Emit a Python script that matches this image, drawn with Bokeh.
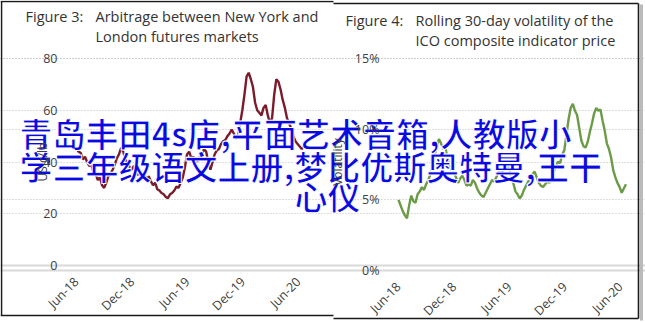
import math
import pandas as pd
from bokeh.plotting import figure
from bokeh.models import (Range1d, LinearAxis, DatetimeAxis, FixedTicker, Grid,
                          PrintfTickFormatter, DatetimeTickFormatter, ColumnDataSource)
from bokeh.core.properties import value
from bokeh.embed import file_html
from bokeh.resources import INLINE

# ---- data -------------------------------------------------------------
start_date = "2018-06-01"

# Figure 3: NY - London arbitrage, US c/lb (weekly)
arbitrage = [45, 44, 43.5, 41, 42, 40, 38.5, 39, 36, 35.5,
             33, 34, 31, 30, 32, 34.5, 35.5, 37, 39, 41.5,
             43, 45.5, 44, 41, 39.5, 38, 37, 38.5, 36, 35,
             36.5, 34, 35, 33, 34.5, 32.5, 31, 32, 29.5, 29,
             28, 27.5, 26.5, 26, 27.5, 28, 29, 30.5, 30, 32,
             34, 38, 43, 44, 41.5, 42, 40, 40.5, 42, 43,
             45, 44, 40, 37, 40, 43, 44.5, 45, 47, 48,
             48.5, 50, 51, 52.5, 51, 49, 50, 55, 60, 66,
             73, 74.5, 72, 69, 63, 60, 59, 58, 61, 62,
             58, 55, 57, 66, 72, 71, 68, 64, 61, 57,
             55, 53, 50, 48, 47, 46, 45, 46]

# Figure 4: rolling 30-day volatility of the ICO composite price, % (weekly)
volatility = [5.0, 4.6, 4.2, 3.9, 3.7, 4.6, 5.3, 4.9, 4.8, 5.4,
              5.6, 5.9, 5.7, 6.1, 6.4, 6.8, 7.3, 8.1, 8.8, 9.3,
              9.0, 8.6, 8.8, 7.9, 7.4, 7.1, 7.0, 6.6, 6.2, 6.5,
              6.7, 6.4, 6.0, 6.1, 6.0, 6.4, 6.2, 5.8, 5.5, 5.3,
              5.2, 5.5, 5.8, 6.1, 6.4, 6.3, 6.6, 6.9, 7.2, 7.0,
              7.4, 7.5, 7.2, 6.7, 6.2, 5.6, 5.4, 5.1, 5.3, 5.7,
              6.0, 6.3, 6.5, 6.8, 7.0, 6.6, 6.2, 6.0, 5.9, 6.1,
              6.3, 6.2, 6.6, 7.0, 7.3, 7.7, 7.6, 8.2, 8.5, 9.6,
              10.7, 11.5, 11.8, 11.3, 11.0, 10.1, 9.2, 8.8, 8.7, 9.1,
              9.8, 10.4, 11.1, 11.5, 11.3, 11.4, 10.6, 9.9, 9.0, 8.6,
              8.0, 7.1, 6.6, 6.2, 5.9, 5.5, 5.8, 6.1]

date_ticks = ["2018-06-01", "2018-12-01", "2019-06-01", "2019-12-01", "2020-06-01"]
arb_ticks = [0, 20, 40, 60, 80]
vol_ticks = [0, 5, 10, 15]

title_left = ["Figure 3:", "Arbitrage between New York and", "London futures markets"]
title_right = ["Figure 4:", "Rolling 30-day volatility of the", "ICO  composite indicator price"]
overlay_lines = ["青岛丰田4s店,平面艺术音箱,人教版小",
                 "学三年级语文上册,梦比优斯奥特曼,王干",
                 "心仪"]

# ---- helpers ----------------------------------------------------------
W, H = 645, 323


def ms(d):
    return pd.Timestamp(d).value / 1e6


def through(v0, px0, v1, px1):
    k = (v1 - v0) / (px1 - px0)
    return lambda px: v0 + (px - px0) * k


dates = pd.date_range(start_date, periods=len(arbitrage), freq="7D")
tick_ms = [ms(d) for d in date_ticks]

# page coordinates: x to the right, y downwards (pixels)
p = figure(width=W, height=H, output_backend="svg", toolbar_location=None,
           x_range=Range1d(0, W), y_range=Range1d(H, 0),
           x_axis_type=None, y_axis_type=None, min_border=0)
p.outline_line_color = None
p.background_fill_color = "white"
p.border_fill_color = "white"

# each panel gets its own scales, pinned to its own plot area
lx = through(tick_ms[0], 76, tick_ms[-1], 298)
ly = through(0, 265, 80, 58)
rx = through(tick_ms[0], 398, tick_ms[-1], 620)
ry = through(0, 270, 15, 58)
p.extra_x_ranges = {"lx": Range1d(lx(0), lx(W)), "rx": Range1d(rx(0), rx(W))}
p.extra_y_ranges = {"ly": Range1d(ly(H), ly(0)), "ry": Range1d(ry(H), ry(0))}

FONT = value("Open Sans")
LABEL = "#404040"


def style_axis(ax):
    ax.axis_line_color = None
    ax.major_tick_line_color = None
    ax.minor_tick_line_color = None
    ax.major_label_text_font = "Open Sans"
    ax.major_label_text_font_size = "12.5px"
    ax.major_label_text_color = LABEL
    ax.axis_label_text_font = "Open Sans"
    ax.axis_label_text_font_size = "12px"
    ax.axis_label_text_font_style = "normal"
    ax.axis_label_text_color = LABEL


def panel(xname, yname, xmap, ymap, yticks, x0, x1, xpos, ylabel, fmt, series, color, y_std):
    # horizontal grid lines
    p.add_layout(Grid(dimension=1, ticker=FixedTicker(ticks=yticks[1:]),
                      x_range_name=xname, y_range_name=yname,
                      bounds=(xmap(x0), xmap(x1)),
                      grid_line_color="#bdbdbd", grid_line_dash="1 2", grid_line_width=1))
    p.add_layout(Grid(dimension=1, ticker=FixedTicker(ticks=yticks[:1]),
                      x_range_name=xname, y_range_name=yname,
                      bounds=(xmap(x0), xmap(x1)),
                      grid_line_color="#d9d9d9", grid_line_width=2))
    # date axis
    xa = DatetimeAxis(x_range_name=xname, y_range_name=yname, fixed_location=0,
                      ticker=FixedTicker(ticks=tick_ms),
                      formatter=DatetimeTickFormatter(days="%b-%y", months="%b-%y", years="%b-%y"),
                      major_label_orientation=math.pi / 4, major_label_standoff=8)
    style_axis(xa)
    p.add_layout(xa, "below")
    # value axis
    ya = LinearAxis(x_range_name=xname, y_range_name=yname, fixed_location=xmap(xpos),
                    ticker=FixedTicker(ticks=yticks), formatter=fmt,
                    major_label_standoff=6, axis_label=ylabel, axis_label_standoff=y_std)
    style_axis(ya)
    p.add_layout(ya, "left")
    src = ColumnDataSource(dict(date=dates, v=series))
    p.line("date", "v", source=src, x_range_name=xname, y_range_name=yname,
           line_color=color, line_width=2.4)


panel("lx", "ly", lx, ly, arb_ticks, 75, 306, 69, "US c/lb",
      PrintfTickFormatter(format="%d"), arbitrage, "#7a1c2c", -11)
panel("rx", "ry", rx, ry, vol_ticks, 397, 627, 391, "Volatility",
      PrintfTickFormatter(format="%d%%"), volatility, "#6b9b46", 6)

# panel titles
TITLE = dict(text_baseline="middle", text_font=FONT, text_font_size="14.5px", text_color="#333333")
p.text(x=[25, 95, 95], y=[16, 16, 36], text=title_left, **TITLE)
p.text(x=[345, 415, 415], y=[20, 20, 40], text=title_right, **TITLE)

# panel frames
FRAME = dict(line_color="#1a1a1a", line_width=1.6)
p.line([0, 333], [1, 1], **FRAME)
p.line([1, 1], [1, 315], **FRAME)
p.line([0, 333], [315, 315], **FRAME)
p.line([333, 638], [3, 3], **FRAME)
p.line([638, 638], [3, 318], **FRAME)
p.line([333, 638], [318, 318], **FRAME)
p.line([641, 641], [4, 320], line_color="#bbbbbb", line_width=3)

# overlay caption
p.text(x=[19, 19, 294], y=[132, 165, 195], text=overlay_lines,
       text_baseline="middle", text_align="left",
       text_font=value("Noto Sans CJK SC"), text_font_style="bold",
       text_font_size="33px", text_color="#0a0ae0",
       text_outline_color="white")

open("out.html", "w").write(file_html(p, INLINE))
